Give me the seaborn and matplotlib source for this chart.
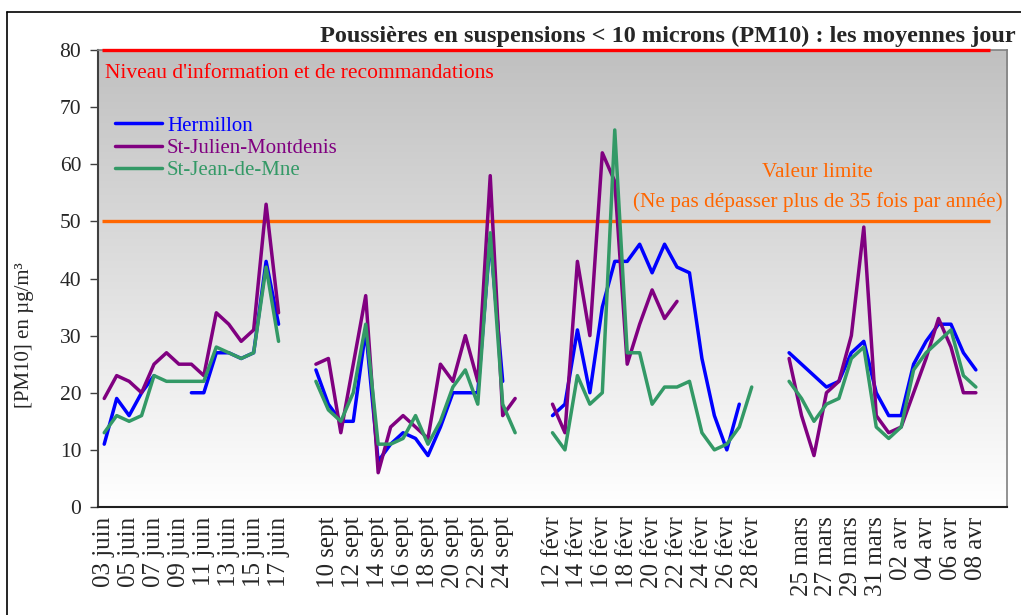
import numpy as np
import pandas as pd
import matplotlib
matplotlib.use("Agg")
import matplotlib.pyplot as plt
from matplotlib.colors import LinearSegmentedColormap
from matplotlib.lines import Line2D
import seaborn as sns

# Jours de chaque période de mesure
jours_juin = ["03 juin", "04 juin", "05 juin", "06 juin", "07 juin", "08 juin", "09 juin",
              "10 juin", "11 juin", "12 juin", "13 juin", "14 juin", "15 juin", "16 juin",
              "17 juin"]
jours_sept = ["09 sept", "10 sept", "11 sept", "12 sept", "13 sept", "14 sept", "15 sept",
              "16 sept", "17 sept", "18 sept", "19 sept", "20 sept", "21 sept", "22 sept",
              "23 sept", "24 sept", "25 sept"]
jours_fevr = ["12 févr", "13 févr", "14 févr", "15 févr", "16 févr", "17 févr", "18 févr",
              "19 févr", "20 févr", "21 févr", "22 févr", "23 févr", "24 févr", "25 févr",
              "26 févr", "27 févr", "28 févr"]
jours_mars = ["24 mars", "25 mars", "26 mars", "27 mars", "28 mars", "29 mars", "30 mars",
              "31 mars", "01 avr", "02 avr", "03 avr", "04 avr", "05 avr", "06 avr",
              "07 avr", "08 avr"]

nan = np.nan

# Moyennes journalières PM10 (µg/m3)
herm_juin = [11, 19, 16, 20, 23, nan, nan, 20, 20, 27, 27, 26, 27, 43, 32]
julien_juin = [19, 23, 22, 20, 25, 27, 25, 25, 23, 34, 32, 29, 31, 53, 34]
jean_juin = [13, 16, 15, 16, 23, 22, 22, 22, 22, 28, 27, 26, 27, 42, 29]

herm_sept = [24, 18, 15, 15, 31, 8, 11, 13, 12, 9, 14, 20, 20, 20, 47, 22, nan]
julien_sept = [25, 26, 13, 25, 37, 6, 14, 16, 14, 12, 25, 22, 30, 22, 58, 16, 19]
jean_sept = [22, 17, 15, 20, 32, 11, 11, 12, 16, 11, 15, 21, 24, 18, 48, 18, 13]

herm_fevr = [16, 18, 31, 20, 35, 43, 43, 46, 41, 46, 42, 41, 26, 16, 10, 18, nan]
julien_fevr = [18, 13, 43, 30, 62, 57, 25, 32, 38, 33, 36, nan, nan, nan, nan, nan, nan]
jean_fevr = [13, 10, 23, 18, 20, 66, 27, 27, 18, 21, 21, 22, 13, 10, 11, 14, 21]

herm_mars = [27, 25, 23, 21, 22, 27, 29, 20, 16, 16, 25, 29, 32, 32, 27, 24]
julien_mars = [26, 16, 9, 20, 22, 30, 49, 16, 13, 14, 20, 26, 33, 28, 20, 20]
jean_mars = [22, 19, 15, 18, 19, 26, 28, 14, 12, 14, 24, 27, 29, 31, 23, 21]

stations = ["Hermillon", "St-Julien-Montdenis", "St-Jean-de-Mne"]
colors = ["#0000FF", "#800080", "#339966"]

seuil_info = 80
valeur_limite = 50

# Axe des catégories : deux cases vides entre les périodes et à la fin
categories = (jours_juin + [""] * 2 + jours_sept + [""] * 2 + jours_fevr + [""] * 2
              + jours_mars + [""] * 2)

periods = [
    (jours_juin, [herm_juin, julien_juin, jean_juin]),
    (jours_sept, [herm_sept, julien_sept, jean_sept]),
    (jours_fevr, [herm_fevr, julien_fevr, jean_fevr]),
    (jours_mars, [herm_mars, julien_mars, jean_mars]),
]

rows = []
seg_counter = {s: 0 for s in stations}
for jours, series in periods:
    for station, vals in zip(stations, series):
        seg_counter[station] += 1
        prev_missing = False
        for jour, v in zip(jours, vals):
            if np.isnan(v):
                prev_missing = True
                continue
            if prev_missing:
                seg_counter[station] += 1
                prev_missing = False
            rows.append({"slot": categories.index(jour), "pm10": v,
                         "station": station, "segment": seg_counter[station]})
df = pd.DataFrame(rows)

sns.set_style("white")
plt.rcParams["font.family"] = ["Liberation Serif", "DejaVu Serif"]

W, H = 1021, 615
fig = plt.figure(figsize=(W / 100, H / 100), dpi=100)
ax = fig.add_axes([98 / W, 1 - 507 / H, 909 / W, 457 / H])

# Fond dégradé gris -> blanc
grad = np.linspace(0, 1, 256).reshape(-1, 1)
cmap = LinearSegmentedColormap.from_list("fond", ["#FFFFFF", "#C0C0C0"])
ax.imshow(grad, extent=[-0.5, len(categories) - 0.5, 0, 80], aspect="auto",
          cmap=cmap, origin="lower", zorder=0)

sns.lineplot(data=df, x="slot", y="pm10", hue="station", units="segment",
             estimator=None, sort=False, palette=dict(zip(stations, colors)),
             hue_order=stations, linewidth=2.5, legend=False, ax=ax,
             solid_joinstyle="round", solid_capstyle="round", zorder=3)

# Seuils
ax.hlines(seuil_info, -0.2, 71.1, color="#FF0000", linewidth=2.4, zorder=4, clip_on=False)
ax.hlines(valeur_limite, -0.2, 71.1, color="#FF6600", linewidth=2.4, zorder=2)
ax.text(0.05, 75.9, "Niveau d'information et de recommandations", color="#FF0000",
        fontsize=15.5, ha="left", va="center")
ax.text(57.3, 58.6, "Valeur limite", color="#FF6600", fontsize=15.3,
        ha="center", va="center")
ax.text(57.3, 53.3, "(Ne pas dépasser plus de 35 fois par année)", color="#FF6600",
        fontsize=15.3, ha="center", va="center")

ax.set_xlim(-0.5, len(categories) - 0.5)
ax.set_ylim(0, 80)
ax.set_yticks(range(0, 81, 10))
ax.set_xticks(range(0, len(categories), 2))
ax.set_xticklabels(categories[::2], rotation=90, fontsize=18)
ax.tick_params(axis="x", length=0, pad=7)
ax.tick_params(axis="y", length=6, width=1, color="#404040", labelsize=15.5, pad=6,
               left=True, direction="out")
ax.set_xlabel("")
ax.set_ylabel("")

for side in ["top", "right"]:
    ax.spines[side].set_color("#808080")
    ax.spines[side].set_linewidth(1.2)
ax.spines["left"].set_color("#404040")
ax.spines["bottom"].set_color("#202020")
ax.spines["left"].set_linewidth(1.5)
ax.spines["bottom"].set_linewidth(1.5)

handles = [Line2D([], [], color=c, linewidth=2.5) for c in colors]
ax.legend(handles, stations, loc="upper left", bbox_to_anchor=(17 / 909, (507 - 116) / 457),
          frameon=False, fontsize=15, handlelength=2.25, handletextpad=0.25,
          labelspacing=0.13, borderpad=0, borderaxespad=0, labelcolor="linecolor")

fig.text(320 / W, 1 - 36 / H, "Poussières en suspensions < 10 microns (PM10) : les moyennes jour",
         fontsize=17.5, fontweight="bold", ha="left", va="center")
fig.text(25 / W, 1 - 335 / H, "[PM10] en µg/m³", fontsize=15, rotation=90,
         ha="center", va="center")

# Cadre extérieur du graphique
fig.add_artist(Line2D([7 / W, 1], [1 - 12 / H, 1 - 12 / H], color="black", linewidth=1.2))
fig.add_artist(Line2D([7 / W, 7 / W], [0, 1 - 12 / H], color="black", linewidth=1.2))

fig.savefig("out.png", dpi=100)
